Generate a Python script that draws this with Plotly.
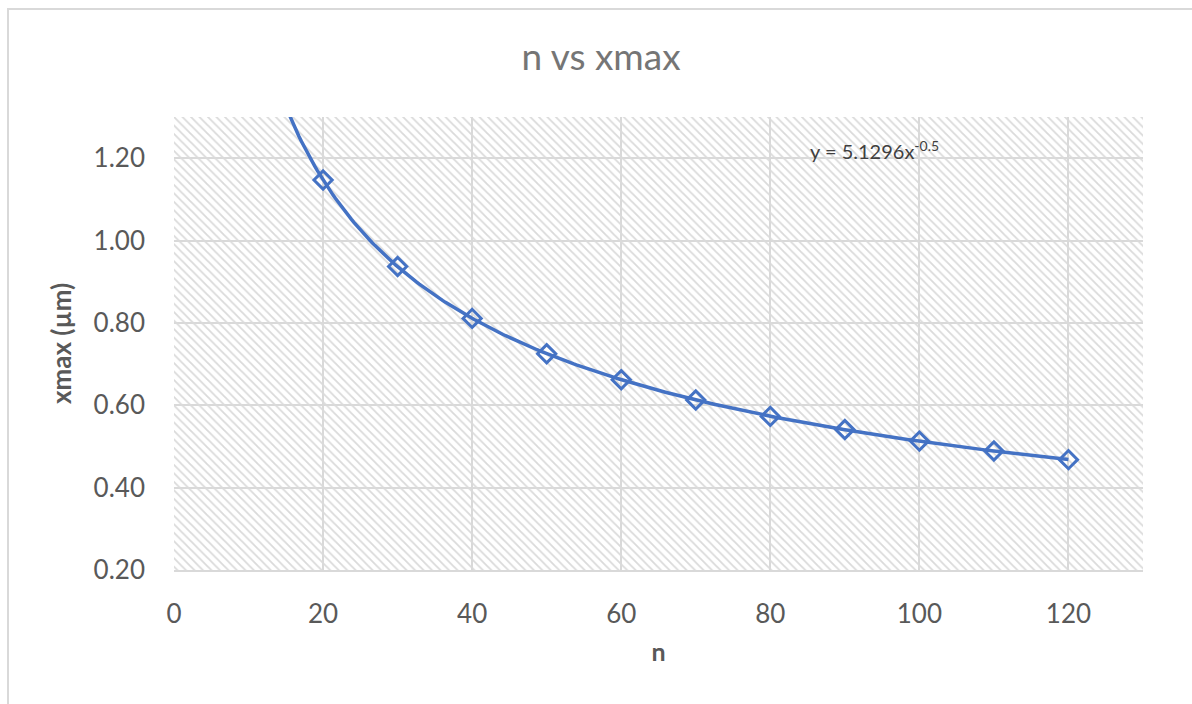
import numpy as np
import plotly.graph_objects as go

# ---- data ----
n_values = [20, 30, 40, 50, 60, 70, 80, 90, 100, 110, 120]
xmax_values = [1.147, 0.937, 0.811, 0.725, 0.662, 0.613, 0.573, 0.541, 0.513, 0.489, 0.468]
x_ticks = [0, 20, 40, 60, 80, 100, 120]
y_ticks = [0.20, 0.40, 0.60, 0.80, 1.00, 1.20]
x_range = [0, 130]
y_range = [0.2, 1.3]
equation_text = "y = 5.1296x<sup>-0.5</sup>"

# ---- power-law trendline fitted from the data ----
b, log_a = np.polyfit(np.log(n_values), np.log(xmax_values), 1)
a = float(np.exp(log_a))
trend_x = np.linspace(15, max(n_values), 300)
trend_y = a * trend_x ** b

W, H = 1192, 704
ML, MR, MT, MB = 174, 49, 117, 134
PW, PH = W - ML - MR, H - MT - MB

blue = "#4472C4"
grid = "#d9d9d9"
txt = "#595959"
font = "Lato, 'Open Sans', sans-serif"

fig = go.Figure()

# hatched plot-area background
fig.add_trace(go.Scatter(
    x=[x_range[0], x_range[1], x_range[1], x_range[0], x_range[0]],
    y=[y_range[0], y_range[0], y_range[1], y_range[1], y_range[0]],
    mode="lines", line=dict(width=0), fill="toself",
    fillcolor="rgba(0,0,0,0)",
    fillpattern=dict(shape="\\", fgcolor="#dadada", size=6, solidity=0.3, fillmode="replace"),
    hoverinfo="skip", showlegend=False,
))

fig.add_trace(go.Scatter(
    x=trend_x, y=trend_y, mode="lines",
    line=dict(color=blue, width=3.5), showlegend=False, hoverinfo="skip",
))

fig.add_trace(go.Scatter(
    x=n_values, y=xmax_values, mode="markers",
    marker=dict(symbol="diamond-open", size=14, color=blue, line=dict(color=blue, width=3)),
    showlegend=False,
))

fig.add_annotation(
    x=85.0, y=1.219, xref="x", yref="y", text=equation_text,
    showarrow=False, xanchor="left", yanchor="middle",
    font=dict(family=font, size=20, color="#404040"),
)

# outer chart border (top and left visible)
fig.add_shape(
    type="rect", xref="paper", yref="paper",
    x0=(8 - ML) / PW, x1=(W + 20 - ML) / PW,
    y0=-(MB + 20) / PH, y1=(H - MB - 9) / PH,
    line=dict(color=grid, width=2), fillcolor="rgba(0,0,0,0)", layer="below",
)

fig.update_layout(
    width=W, height=H,
    margin=dict(l=ML, r=MR, t=MT, b=MB, autoexpand=False),
    paper_bgcolor="white", plot_bgcolor="white",
    title=dict(text="n vs xmax", x=601 / W, xanchor="center",
               y=1 - 57 / H, yanchor="middle", yref="container",
               font=dict(family=font, size=37, color="#757575")),
    font=dict(family=font, color=txt),
)

fig.update_xaxes(
    range=x_range, tickvals=x_ticks, ticktext=[str(v) for v in x_ticks],
    showgrid=True, gridcolor=grid, gridwidth=1.5,
    showline=True, linecolor=grid, linewidth=1.5,
    zeroline=False, ticks="", ticklabelstandoff=20,
    tickfont=dict(family=font, size=26, color=txt),
    title=dict(text="<b>n</b>", standoff=16, font=dict(family=font, size=25, color=txt)),
)
fig.update_yaxes(
    range=y_range, tickvals=y_ticks, ticktext=[f"{v:.2f}" for v in y_ticks],
    showgrid=True, gridcolor=grid, gridwidth=1.5,
    showline=False, zeroline=False, ticks="", ticklabelstandoff=28,
    tickfont=dict(family=font, size=26, color=txt),
    title=dict(text="<b>xmax (µm)</b>", standoff=14, font=dict(family=font, size=26, color=txt)),
)

fig.write_html("out.html")
